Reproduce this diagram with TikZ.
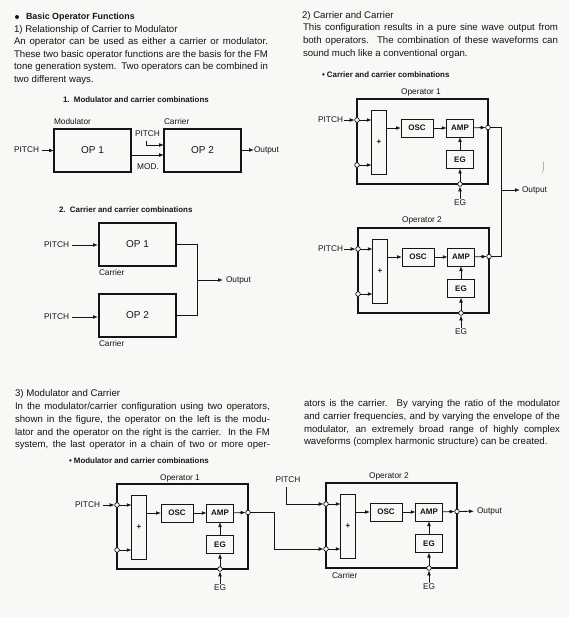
\documentclass[tikz,border=0pt]{standalone}
\usepackage{fontspec}
\setmainfont{Liberation Sans}
\usetikzlibrary{arrows.meta}
\definecolor{paper}{HTML}{F8F8F6}
\definecolor{ink}{HTML}{141414}
\newcount\tlcount
\tikzset{
  x=1pt,y=-1pt,
  txt/.style={inner sep=0pt,outer sep=0pt,text=ink,text height=6.5pt,text depth=2pt,font=\fontsize{9.65}{11}\selectfont},
  headtxt/.style={txt,font=\fontsize{8.9}{11}\selectfont\bfseries},
  captxt/.style={txt,font=\fontsize{7.9}{9}\selectfont\bfseries},
  lab/.style={txt,font=\fontsize{8.3}{10}\selectfont},
  frame/.style={draw=ink,line width=1.25pt,inner sep=0pt,outer sep=0pt},
  blk/.style={draw=ink,line width=.9pt,inner sep=0pt,outer sep=0pt,text=ink,font=\fontsize{8}{10}\selectfont\bfseries},
  opbox/.style={draw=ink,line width=1.1pt,inner sep=0pt,outer sep=0pt,text=ink,font=\fontsize{10}{12}\selectfont},
  port/.style={circle,draw=ink,fill=white,line width=.7pt,minimum size=4.6pt,inner sep=0pt,outer sep=0pt},
  wire/.style={draw=ink,line width=.8pt},
  arr/.style={wire,-{Latex[length=5pt,width=3.8pt]}},
}
% justified text line: x, y, width, text
\newcommand{\tline}[4]{\global\advance\tlcount by 1
  \node[txt,anchor=west] (t\the\tlcount) at (#1,#2) {\hbox to #3pt{\spaceskip=.2em plus 1em minus .08em #4}};}
% free text line
\newcommand{\fline}[4][txt]{\global\advance\tlcount by 1
  \node[#1,anchor=west] (t\the\tlcount) at (#2,#3) {#4};}
% operator block: prefix, x, y of frame's top left
\newcommand{\opblock}[3]{
 \begin{scope}[shift={(#2,#3)}]
  \node[frame,minimum width=131pt,minimum height=85pt] (#1f) at (65.5,42.5) {};
  \node[blk,minimum width=14.5pt,minimum height=64pt] (#1p) at (22,43) {+};
  \node[blk,minimum width=32pt,minimum height=18pt] (#1o) at (60,29) {OSC};
  \node[blk,minimum width=26.5pt,minimum height=18pt] (#1a) at (103,29) {AMP};
  \node[blk,minimum width=26.5pt,minimum height=18pt] (#1e) at (103,60.5) {EG};
  \node[port] (#1c) at (0,21) {};
  \node[port] (#1d) at (0,66) {};
  \node[port] (#1u) at (131,28.5) {};
  \node[port] (#1v) at (103,85) {};
  \node[lab] (#1g) at (103,104) {EG};
  \draw[arr] (#1c) -- (#1p.west |- #1c);
  \draw[arr] (#1d) -- (#1p.west |- #1d);
  \draw[arr] (#1p.east |- #1o) -- (#1o);
  \draw[arr] (#1o) -- (#1a);
  \draw[arr] (#1a) -- (#1u);
  \draw[arr] (#1e) -- (#1a);
  \draw[arr] (#1v) -- (#1e);
  \draw[arr] (#1g) -- (#1v);
 \end{scope}}
\begin{document}
\begin{tikzpicture}
\useasboundingbox[fill=paper] (0,0) rectangle (569,617);
% ---------- text, upper left
\node[circle,fill=ink,minimum size=4pt,inner sep=0pt] (b1) at (17,17) {};
\fline[headtxt]{26}{17}{Basic Operator Functions}
\fline{14}{30}{1) Relationship of Carrier to Modulator}
\tline{14}{42}{254}{An operator can be used as either a carrier or modulator.}
\tline{14}{55}{254}{These two basic operator functions are the basis for the FM}
\tline{14}{67}{254}{tone generation system. Two operators can be combined in}
\fline{14}{80}{two different ways.}
\fline[captxt]{63}{100}{1.\ \ Modulator and carrier combinations}
% ---------- diagram 1
\node[opbox,minimum width=77pt,minimum height=43pt] (op1) at (92.5,150.5) {OP 1};
\node[opbox,minimum width=77pt,minimum height=43pt] (op2) at (202.5,150.5) {OP 2};
\node[lab,anchor=west] (mo) at (54,122) {Modulator};
\node[lab,anchor=west] (ca) at (164,122) {Carrier};
\node[lab,anchor=east] (pi) at (39,150.5) {PITCH};
\node[lab] (pj) at (147.5,134) {PITCH};
\node[lab] (mm) at (148,167) {MOD.};
\node[lab,anchor=west] (ou) at (254,150) {Output};
\draw[arr,shorten <=3pt] (pi) -- (op1.west |- pi);
\coordinate (pk) at (146,141);
\coordinate (pl) at (146,145);
\draw[arr] (pk) -- (pl) -- (op2.west |- pl);
\coordinate (mq) at (131,155);
\draw[arr] (mq) -- (op2.west |- mq);
\draw[arr] (op2.east |- ou) -- (ou);
% ---------- diagram 2
\fline[captxt]{59}{210}{2.\ \ Carrier and carrier combinations}
\node[opbox,minimum width=77pt,minimum height=43pt] (op3) at (137.5,244.5) {OP 1};
\node[opbox,minimum width=77pt,minimum height=43pt] (op4) at (137.5,315.5) {OP 2};
\node[lab,anchor=west] (c3) at (99,273) {Carrier};
\node[lab,anchor=west] (c4) at (99,344) {Carrier};
\node[lab,anchor=east] (p3) at (69,245) {PITCH};
\node[lab,anchor=east] (p4) at (69,317) {PITCH};
\node[lab,anchor=west] (o3) at (226,280) {Output};
\draw[arr,shorten <=3pt,shorten >=1pt] (p3) -- (op3.west |- p3);
\draw[arr,shorten <=3pt,shorten >=1pt] (p4) -- (op4.west |- p4);
\coordinate (j3) at (197,280);
\draw[wire] (op3.east) -- (j3 |- op3.east) -- (j3 |- op4.east) -- (op4.east);
\draw[arr,shorten >=3pt] (j3) -- (o3);
% ---------- text, upper right
\fline{302}{16}{2) Carrier and Carrier}
\tline{303}{28.5}{255}{This configuration results in a pure sine wave output from}
\tline{303}{41}{255}{both operators. The combination of these waveforms can}
\fline{303}{54}{sound much like a conventional organ.}
\fline[captxt]{322}{75}{• Carrier and carrier combinations}
% ---------- diagram 3
\opblock{A}{357}{99}
\opblock{B}{358}{228}
\node[lab] (Al) at (421,92) {Operator 1};
\node[lab] (Bl) at (422,220) {Operator 2};
\node[lab,anchor=east] (Ai) at (343,120) {PITCH};
\node[lab,anchor=east] (Bi) at (343,249) {PITCH};
\node[lab,anchor=west] (Aout) at (522,190) {Output};
\draw[arr,shorten <=1pt] (Ai) -- (Ac);
\draw[arr,shorten <=1pt] (Bi) -- (Bc);
\coordinate (Aj) at (501,190);
\draw[wire] (Au) -- (Aj |- Au) -- (Aj |- Bu) -- (Bu);
\draw[arr,shorten >=2pt] (Aj) -- (Aout);
\draw[gray!60,line width=.6pt] (543.5,162) -- (543.5,170) -- (542,173);
% ---------- text, section 3
\fline{15}{394}{3) Modulator and Carrier}
\tline{15}{407}{255}{In the modulator/carrier configuration using two operators,}
\tline{15}{420}{255}{shown in the figure, the operator on the left is the modu-}
\tline{15}{433}{255}{lator and the operator on the right is the carrier. In the FM}
\tline{15}{445}{255}{system, the last operator in a chain of two or more oper-}
\tline{304}{404}{256}{ators is the carrier. By varying the ratio of the modulator}
\tline{304}{417}{256}{and carrier frequencies, and by varying the envelope of the}
\tline{304}{430}{256}{modulator, an extremely broad range of highly complex}
\fline{304}{442}{waveforms (complex harmonic structure) can be created.}
\fline[captxt]{69}{461}{• Modulator and carrier combinations}
% ---------- diagram 4
\opblock{C}{117}{484}
\opblock{D}{326}{483}
\node[lab] (Cl) at (180,478) {Operator 1};
\node[lab] (Dl) at (389,476) {Operator 2};
\node[lab,anchor=east] (Ci) at (100,505) {PITCH};
\node[lab] (Dpit) at (288,480) {PITCH};
\node[lab,anchor=west] (Dout) at (477,511) {Output};
\node[lab,anchor=west] (Dcar) at (332,576) {Carrier};
\draw[arr,shorten <=3pt] (Ci) -- (Cc);
\coordinate (Dq) at (286,487);
\draw[arr] (Dq) -- (Dq |- Dc) -- (Dc);
\coordinate (Cj) at (274,512);
\draw[arr] (Cu) -- (Cj |- Cu) -- (Cj |- Dd) -- (Dd);
\draw[arr,shorten >=3pt] (Du) -- (Dout);
\end{tikzpicture}
\end{document}
